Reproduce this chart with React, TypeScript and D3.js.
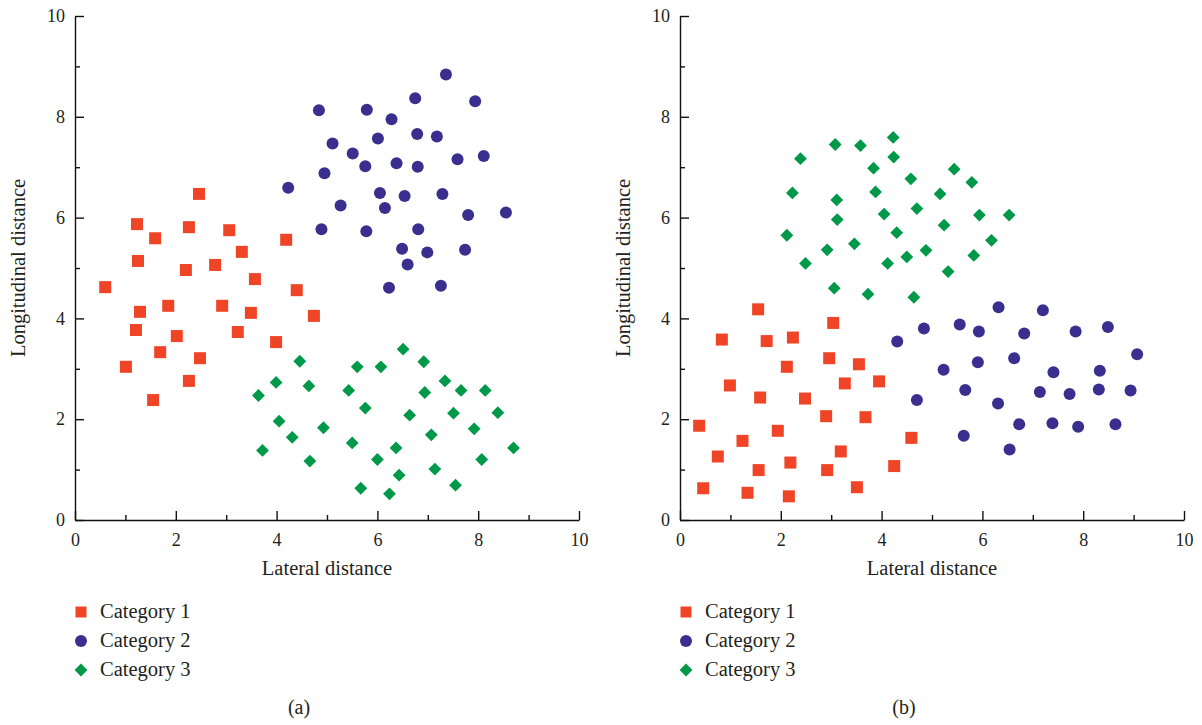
import React, { useRef, useEffect } from 'react';
import * as d3 from 'd3';

type Pt = [number, number];

const majorTicks = [0, 2, 4, 6, 8, 10];
const minorTicks = [1, 3, 5, 7, 9];
const categories = ['Category 1', 'Category 2', 'Category 3'];
const colors = ['#EF4526', '#3A2F8F', '#00994A'];
const panelLabels = ['(a)', '(b)'];
const xTitle = 'Lateral distance';
const yTitle = 'Longitudinal distance';

// panel (a)
const aCat1: Pt[] = [
  [0.60, 4.62], [1.23, 5.87], [1.25, 5.14], [1.59, 5.59], [1.29, 4.13], [1.21, 3.77],
  [1.01, 3.04], [1.85, 4.25], [1.69, 3.33], [2.02, 3.65], [1.55, 2.38], [2.26, 5.81],
  [2.20, 4.96], [2.46, 6.47], [2.26, 2.76], [2.48, 3.21], [2.78, 5.06], [3.06, 5.75],
  [3.31, 5.32], [2.92, 4.25], [3.23, 3.73], [3.49, 4.11], [3.57, 4.78], [4.19, 5.56],
  [4.40, 4.56], [3.99, 3.53], [4.74, 4.05],
];
const aCat2: Pt[] = [
  [7.36, 8.84], [6.75, 8.37], [7.94, 8.31], [4.84, 8.13], [5.79, 8.14], [6.28, 7.95],
  [6.79, 7.66], [7.18, 7.61], [5.11, 7.47], [6.01, 7.57], [5.51, 7.27], [5.76, 7.02],
  [6.38, 7.08], [6.80, 7.01], [7.59, 7.16], [8.11, 7.22], [4.95, 6.88], [4.23, 6.59],
  [6.05, 6.49], [6.54, 6.43], [7.29, 6.47], [5.27, 6.24], [6.15, 6.19], [7.80, 6.05],
  [8.55, 6.10], [4.89, 5.77], [5.78, 5.73], [6.81, 5.77], [6.49, 5.38], [6.99, 5.31],
  [7.74, 5.36], [6.60, 5.07], [6.23, 4.61], [7.26, 4.65],
];
const aCat3: Pt[] = [
  [6.51, 3.39], [4.46, 3.15], [5.60, 3.04], [6.07, 3.04], [6.92, 3.14], [3.99, 2.73],
  [4.64, 2.66], [3.64, 2.47], [5.43, 2.57], [6.94, 2.53], [7.34, 2.76], [7.66, 2.57],
  [8.14, 2.57], [5.76, 2.22], [4.05, 1.96], [4.93, 1.83], [6.64, 2.08], [7.51, 2.12],
  [8.39, 2.13], [4.31, 1.64], [5.50, 1.53], [7.07, 1.69], [7.92, 1.81], [3.72, 1.38],
  [4.66, 1.17], [6.00, 1.20], [6.37, 1.43], [8.07, 1.20], [8.70, 1.43], [6.43, 0.89],
  [7.14, 1.01], [5.67, 0.63], [6.24, 0.52], [7.55, 0.69],
];

// panel (b)
const bCat1: Pt[] = [
  [1.55, 4.18], [3.04, 3.91], [0.83, 3.58], [1.72, 3.55], [2.24, 3.62], [2.96, 3.21],
  [3.55, 3.09], [2.12, 3.04], [0.99, 2.67], [3.27, 2.71], [3.95, 2.75], [1.59, 2.43],
  [2.48, 2.41], [2.90, 2.06], [3.68, 2.04], [0.38, 1.87], [1.94, 1.77], [4.59, 1.63],
  [1.24, 1.57], [0.75, 1.26], [3.19, 1.36], [1.56, 0.99], [2.19, 1.14], [2.92, 0.99],
  [4.25, 1.07], [0.46, 0.63], [1.34, 0.54], [2.16, 0.47], [3.51, 0.65],
];
const bCat2: Pt[] = [
  [6.32, 4.22], [7.20, 4.16], [4.84, 3.80], [5.55, 3.88], [5.93, 3.74], [6.83, 3.70],
  [7.85, 3.74], [8.49, 3.83], [4.31, 3.54], [9.07, 3.29], [5.23, 2.98], [5.91, 3.13],
  [6.63, 3.21], [7.41, 2.93], [8.33, 2.96], [5.66, 2.58], [7.14, 2.54], [7.73, 2.50],
  [8.31, 2.59], [8.94, 2.57], [4.70, 2.38], [6.31, 2.31], [6.73, 1.90], [7.39, 1.92],
  [7.90, 1.85], [8.64, 1.90], [5.63, 1.67], [6.54, 1.40],
];
const bCat3: Pt[] = [
  [4.23, 7.59], [3.08, 7.45], [3.58, 7.43], [2.39, 7.17], [4.24, 7.20], [3.84, 6.98],
  [5.44, 6.96], [4.58, 6.77], [5.79, 6.70], [2.23, 6.49], [3.88, 6.51], [5.16, 6.47],
  [3.11, 6.35], [4.70, 6.18], [4.05, 6.07], [5.94, 6.05], [6.53, 6.05], [3.12, 5.96],
  [5.24, 5.85], [2.12, 5.65], [4.30, 5.70], [6.18, 5.55], [3.46, 5.48], [2.92, 5.36],
  [4.88, 5.35], [4.50, 5.22], [5.83, 5.25], [2.49, 5.09], [4.12, 5.09], [5.32, 4.93],
  [3.06, 4.60], [3.73, 4.48], [4.64, 4.42],
];

const FONT = '"Liberation Serif", "Times New Roman", serif';
const TEXT = '#231F20';

const Marker: React.FC<{ kind: number; x: number; y: number; s?: number }> = ({ kind, x, y, s = 6 }) => {
  if (kind === 0) return <rect x={x - s} y={y - s} width={2 * s} height={2 * s} fill={colors[0]} />;
  if (kind === 1) return <circle cx={x} cy={y} r={s} fill={colors[1]} />;
  const d = s + 0.4;
  return <path d={`M${x},${y - d}L${x + d},${y}L${x},${y + d}L${x - d},${y}Z`} fill={colors[2]} />;
};

const Panel: React.FC<{ x0: number; series: Pt[][]; label: string }> = ({ x0, series, label }) => {
  const axRef = useRef<SVGGElement>(null);
  const x = d3.scaleLinear().domain([0, 10]).range([x0, x0 + 504]);
  const y = d3.scaleLinear().domain([0, 10]).range([520, 16]);

  useEffect(() => {
    if (!axRef.current) return;
    const g = d3.select(axRef.current);
    g.selectAll('*').remove();

    const styleAxis = (sel: any) => {
      sel.selectAll('path, line').attr('stroke', '#111').attr('stroke-width', 1.4);
      sel.selectAll('text').attr('font-family', FONT).attr('font-size', 18).attr('fill', TEXT);
    };

    g.append('g').attr('transform', 'translate(0,520)')
      .call(d3.axisBottom(x).tickValues(minorTicks).tickSize(-5).tickFormat(() => ''))
      .call(s => s.select('.domain').remove())
      .call(styleAxis);
    g.append('g').attr('transform', `translate(${x0},0)`)
      .call(d3.axisLeft(y).tickValues(minorTicks).tickSize(-5).tickFormat(() => ''))
      .call(s => s.select('.domain').remove())
      .call(styleAxis);

    g.append('g').attr('transform', 'translate(0,520)')
      .call(d3.axisBottom(x).tickValues(majorTicks).tickSize(-9).tickSizeOuter(0).tickPadding(13).tickFormat(d3.format('d')))
      .call(styleAxis);
    g.append('g').attr('transform', `translate(${x0},0)`)
      .call(d3.axisLeft(y).tickValues(majorTicks).tickSize(-9).tickSizeOuter(0).tickPadding(10).tickFormat(d3.format('d')))
      .call(styleAxis);
  }, [x0]);

  const cx = (x0 + x0 + 504) / 2;
  return (
    <g>
      {series.map((pts, k) => (
        <g key={k}>
          {pts.map((p, i) => <Marker key={i} kind={k} x={x(p[0])} y={y(p[1])} />)}
        </g>
      ))}
      <g ref={axRef} />
      <text x={cx} y={575} textAnchor="middle" fontFamily={FONT} fontSize={20.5} fill={TEXT}>{xTitle}</text>
      <text transform={`translate(${x0 - 50},268) rotate(-90)`} textAnchor="middle" fontFamily={FONT} fontSize={20.5} fill={TEXT}>{yTitle}</text>
      {categories.map((c, k) => (
        <g key={c}>
          <Marker kind={k} x={x0 + 6} y={612 + k * 29} s={k === 0 ? 5.5 : 6} />
          <text x={x0 + 25} y={618 + k * 29} fontFamily={FONT} fontSize={20.5} fill={TEXT}>{c}</text>
        </g>
      ))}
      <text x={cx - 28} y={714} textAnchor="middle" fontFamily={FONT} fontSize={20} fill={TEXT}>{label}</text>
    </g>
  );
};

export default function App() {
  return (
    <svg width={1202} height={725} style={{ position: 'absolute', left: 0, top: 0, background: '#fff' }}>
      <rect width={1202} height={725} fill="#fff" />
      <Panel x0={75} series={[aCat1, aCat2, aCat3]} label={panelLabels[0]} />
      <Panel x0={680} series={[bCat1, bCat2, bCat3]} label={panelLabels[1]} />
    </svg>
  );
}
